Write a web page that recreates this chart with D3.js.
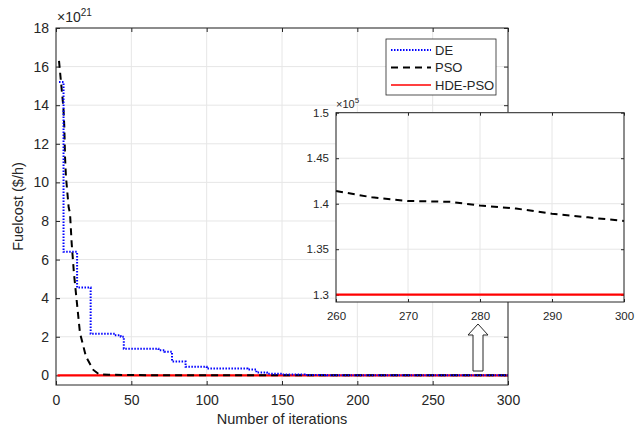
<!DOCTYPE html>
<html>
<head>
<meta charset="utf-8">
<script src="https://cdn.jsdelivr.net/npm/d3@7"></script>
<style>
  body { margin: 0; background: #fff; }
  text { font-family: "Liberation Sans", Arial, sans-serif; fill: #262626; }
  .grid line { stroke: #e6e6e6; }
</style>
</head>
<body>
<svg width="639" height="429"></svg>
<script>
// Convergence data (main plot in units of 1e21 $/h)
var deIter  = [2, 5, 14, 23, 39, 43, 45, 68, 72, 77, 86, 100, 127, 133, 140, 150, 165, 180, 300];
var deCost  = [15.2, 6.4, 4.55, 2.15, 2.08, 2.0, 1.38, 1.3, 1.22, 0.72, 0.45, 0.35, 0.3, 0.15, 0.08, 0.05, 0.02, 0, 0];
var psoIter = [2, 3.8, 4.9, 5.5, 6, 6.6, 7.5, 8.4, 9.3, 10.4, 11.9, 13.7, 15.9, 19.9, 24.8, 28.7, 35, 60, 300];
var psoCost = [16.3, 14.8, 13.9, 12.9, 11.3, 10.3, 9.5, 8.7, 8.4, 6.85, 5.3, 3.9, 2.2, 0.97, 0.28, 0.05, 0.03, 0.01, 0];
var hdeIter = [1, 300];
var hdeCost = [0, 0];

// Zoomed inset (units of 1e5 $/h)
var inIter    = [260, 265, 270, 276, 280, 285, 290, 295, 300];
var inPso     = [1.414, 1.407, 1.403, 1.402, 1.398, 1.3947, 1.389, 1.385, 1.381];
var inHdeIter = [260, 300];
var inHde     = [1.3, 1.3];

var xTicks = [0, 50, 100, 150, 200, 250, 300];
var yTicks = [0, 2, 4, 6, 8, 10, 12, 14, 16, 18];
var inXTicks = [260, 270, 280, 290, 300];
var inYTicks = [1.3, 1.35, 1.4, 1.45, 1.5];

var seriesNames = ["DE", "PSO", "HDE-PSO"];

var svg = d3.select("svg");

// ---- main axes ----
var m = {left: 56, top: 28, right: 508, bottom: 385};
var x = d3.scaleLinear().domain([0, 300]).range([m.left, m.right]);
var y = d3.scaleLinear().domain([-0.5, 18]).range([m.bottom, m.top]);

function drawAxes(g, x, y, xt, yt, fs, fmtY, tickLen) {
  var x0 = x.range()[0], x1 = x.range()[1], y0 = y.range()[0], y1 = y.range()[1];
  g.append("rect").attr("x", x0).attr("y", y1).attr("width", x1 - x0).attr("height", y0 - y1)
    .attr("fill", "#fff");
  var grid = g.append("g").attr("class", "grid");
  grid.selectAll(".gx").data(xt).enter().append("line")
    .attr("x1", d => x(d)).attr("x2", d => x(d)).attr("y1", y0).attr("y2", y1);
  grid.selectAll(".gy").data(yt).enter().append("line")
    .attr("x1", x0).attr("x2", x1).attr("y1", d => y(d)).attr("y2", d => y(d));
  // inward ticks on all four sides (MATLAB box)
  g.append("g").attr("transform", "translate(0," + y0 + ")")
    .call(d3.axisBottom(x).tickValues(xt).tickSizeInner(-tickLen).tickSizeOuter(0).tickPadding(10))
    .call(s => s.select(".domain").remove())
    .selectAll("text").style("font-size", fs + "px").attr("fill", "#262626");
  g.append("g").attr("transform", "translate(0," + y1 + ")")
    .call(d3.axisTop(x).tickValues(xt).tickSizeInner(-tickLen).tickSizeOuter(0).tickFormat(""))
    .call(s => s.select(".domain").remove());
  g.append("g").attr("transform", "translate(" + x0 + ",0)")
    .call(d3.axisLeft(y).tickValues(yt).tickSizeInner(-tickLen).tickSizeOuter(0).tickPadding(7).tickFormat(fmtY))
    .call(s => s.select(".domain").remove())
    .selectAll("text").style("font-size", fs + "px").attr("fill", "#262626");
  g.append("g").attr("transform", "translate(" + x1 + ",0)")
    .call(d3.axisRight(y).tickValues(yt).tickSizeInner(-tickLen).tickSizeOuter(0).tickFormat(""))
    .call(s => s.select(".domain").remove());
  g.selectAll(".tick line").attr("stroke", "#262626");
  g.selectAll(".domain").remove();
  g.selectAll("text").style("font-family", "'Liberation Sans', Arial, sans-serif");
}

var main = svg.append("g");
drawAxes(main, x, y, xTicks, yTicks, 14, d3.format("d"), 4);

var line = d3.line().x(d => x(d[0])).y(d => y(d[1]));
var stepLine = d3.line().x(d => x(d[0])).y(d => y(d[1])).curve(d3.curveStepAfter);

main.append("path").datum(d3.zip(hdeIter, hdeCost)).attr("d", line)
  .attr("fill", "none").attr("stroke", "#ff0000").attr("stroke-width", 2.2);
main.append("path").datum(d3.zip(psoIter, psoCost)).attr("d", line)
  .attr("fill", "none").attr("stroke", "#000").attr("stroke-width", 2)
  .attr("stroke-dasharray", "7,5");
main.append("path").datum(d3.zip(deIter, deCost)).attr("d", stepLine)
  .attr("fill", "none").attr("stroke", "#0000ff").attr("stroke-width", 2)
  .attr("stroke-dasharray", "1.5,1.5");

main.append("rect").attr("x", m.left).attr("y", m.top)
  .attr("width", m.right - m.left).attr("height", m.bottom - m.top)
  .attr("fill", "none").attr("stroke", "#262626").attr("stroke-width", 1);

// exponent label
var ex = main.append("text").attr("x", m.left + 1).attr("y", m.top - 6).style("font-size", "14px");
ex.append("tspan").text("\u00d710");
ex.append("tspan").attr("dy", -6).style("font-size", "10px").text("21");

main.append("text").attr("x", (m.left + m.right) / 2).attr("y", 424)
  .attr("text-anchor", "middle").style("font-size", "14.5px").text("Number of iterations");
main.append("text").attr("transform", "translate(23," + ((m.top + m.bottom) / 2) + ") rotate(-90)")
  .attr("text-anchor", "middle").style("font-size", "14.5px").text("Fuelcost ($/h)");

// ---- legend ----
var lg = svg.append("g");
lg.append("rect").attr("x", 386).attr("y", 39).attr("width", 110).attr("height", 56)
  .attr("fill", "#fff").attr("stroke", "#262626").attr("stroke-width", 0.8);
var styles = [
  {c: "#0000ff", d: "1.5,1.5", w: 2},
  {c: "#000", d: "7,5", w: 2},
  {c: "#ff0000", d: null, w: 1.5}
];
seriesNames.forEach(function (n, i) {
  var yy = 50 + i * 17.5;
  lg.append("line").attr("x1", 391).attr("x2", 431).attr("y1", yy).attr("y2", yy)
    .attr("stroke", styles[i].c).attr("stroke-width", styles[i].w)
    .attr("stroke-dasharray", styles[i].d);
  lg.append("text").attr("x", 435).attr("y", yy + 4.5).style("font-size", "13px").text(n);
});

// ---- inset ----
var ix = d3.scaleLinear().domain([260, 300]).range([336, 624]);
var iy = d3.scaleLinear().domain([1.292, 1.5]).range([302, 112.7]);
var inset = svg.append("g");
drawAxes(inset, ix, iy, inXTicks, inYTicks, 11.5, d3.format(""), 3);

var iline = d3.line().x(d => ix(d[0])).y(d => iy(d[1]));
inset.append("path").datum(d3.zip(inHdeIter, inHde)).attr("d", iline)
  .attr("fill", "none").attr("stroke", "#ff0000").attr("stroke-width", 2.2);
inset.append("path").datum(d3.zip(inIter, inPso)).attr("d", iline)
  .attr("fill", "none").attr("stroke", "#000").attr("stroke-width", 2)
  .attr("stroke-dasharray", "7,5");
inset.append("rect").attr("x", 336).attr("y", 112.7).attr("width", 288).attr("height", 302 - 112.7)
  .attr("fill", "none").attr("stroke", "#262626").attr("stroke-width", 1);
var iex = inset.append("text").attr("x", 336).attr("y", 108).style("font-size", "11px");
iex.append("tspan").text("\u00d710");
iex.append("tspan").attr("dy", -5).style("font-size", "8px").text("5");

// arrow pointing to the inset
svg.append("path")
  .attr("d", "M478,324 L488,335 L483,335 L483,371 L473,371 L473,335 L468,335 Z")
  .attr("fill", "#fff").attr("stroke", "#262626").attr("stroke-width", 1);
</script>
</body>
</html>
